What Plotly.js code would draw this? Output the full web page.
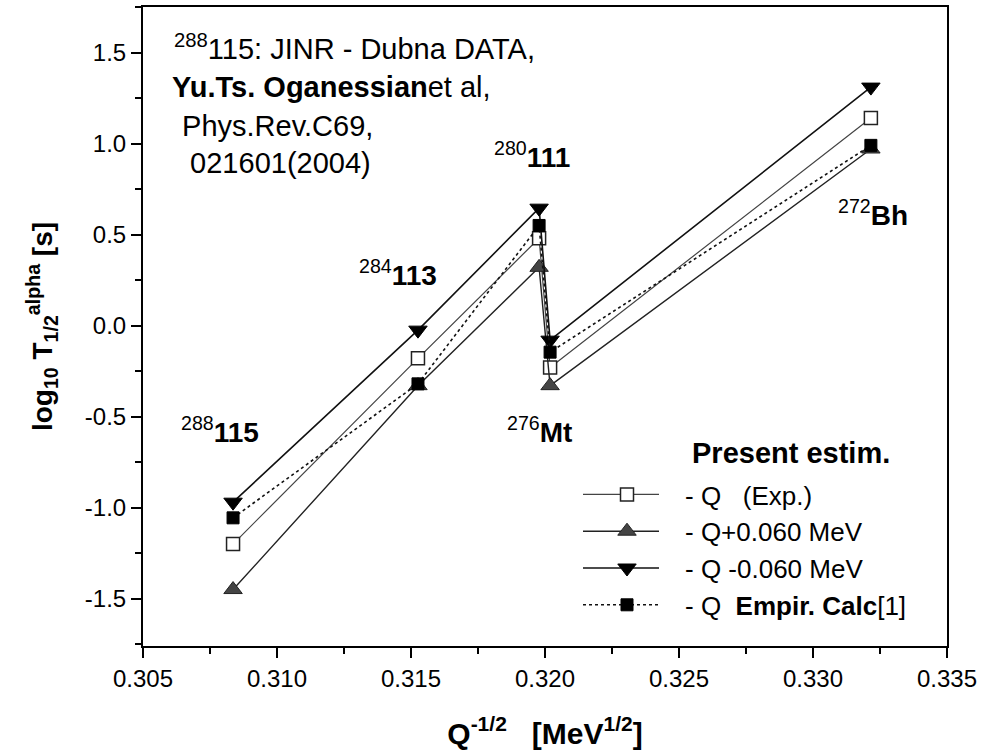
<!DOCTYPE html>
<html>
<head>
<meta charset="utf-8">
<script src="https://cdn.plot.ly/plotly-3.0.1.min.js"></script>
<style>html,body{margin:0;padding:0;background:#fff;}#chart{width:983px;height:752px;}</style>
</head>
<body>
<div id="chart"></div>
<script>
// Nuclei along the decay chain
const nuclei = ["288115", "284113", "280111", "276Mt", "272Bh"];
// Q^-1/2 [MeV^1/2]
const xQ = [0.30836, 0.31526, 0.31978, 0.32019, 0.33216];
// log10 T1/2 [s]
const yExp = [-1.20, -0.18, 0.48, -0.23, 1.14];
const yQplus = [-1.45, -0.33, 0.32, -0.33, 0.97];
const yQminus = [-0.97, -0.025, 0.645, -0.08, 1.31];
const yEmpir = [-1.056, -0.32, 0.55, -0.146, 0.99];

const seriesNames = ["- Q   (Exp.)", "- Q+0.060 MeV", "- Q -0.060 MeV", "- Q  <b>Empir. Calc</b>[1]"];

const xTickVals = [0.305, 0.310, 0.315, 0.320, 0.325, 0.330, 0.335];
const xTickLabels = ["0.305", "0.310", "0.315", "0.320", "0.325", "0.330", "0.335"];
const yTickVals = [-1.5, -1.0, -0.5, 0.0, 0.5, 1.0, 1.5];
const yTickLabels = ["-1.5", "-1.0", "-0.5", "0.0", "0.5", "1.0", "1.5"];

const FONT = "Liberation Sans, Arial, sans-serif";

const traces = [
  {x: xQ, y: yExp, name: seriesNames[0], mode: "lines+markers",
   line: {color: "#444", width: 1.2},
   marker: {symbol: "square", size: 13, color: "#fff", line: {color: "#222", width: 1.5}}},
  {x: xQ, y: yQplus, name: seriesNames[1], mode: "lines+markers",
   line: {color: "#222", width: 1.4},
   marker: {symbol: "triangle-up", size: 16, color: "#444", line: {color: "#222", width: 1}}},
  {x: xQ, y: yQminus, name: seriesNames[2], mode: "lines+markers",
   line: {color: "#111", width: 1.6},
   marker: {symbol: "triangle-down", size: 16, color: "#000", line: {color: "#000", width: 1}}},
  {x: xQ, y: yEmpir, name: seriesNames[3], mode: "lines+markers",
   line: {color: "#111", width: 1.6, dash: "dot"},
   marker: {symbol: "square", size: 12, color: "#000", line: {color: "#000", width: 1}}}
];

const PL = 143, PR = 947, PT = 7, PB = 646;
const toPX = (px) => (px - PL) / (PR - PL);
const toPY = (py) => (PB - py) / (PB - PT);

const lbl = (txt, x, y, size) => ({text: txt, x: toPX(x), y: toPY(y), xref: "paper", yref: "paper",
  showarrow: false, xanchor: "left", yanchor: "middle",
  font: {family: FONT, size: size, color: "#000"}});

const annotations = [
  lbl("<sup>288</sup>115: JINR - Dubna DATA,", 172, 47, 29),
  lbl("<b>Yu.Ts. Oganessian</b>et al,", 170, 87, 29),
  lbl(" Phys.Rev.C69,", 172, 126, 29),
  lbl("  021601(2004)", 172, 163, 29),
  lbl("<sup>280</sup><b>111</b>", 492, 155, 28),
  lbl("<sup>284</sup><b>113</b>", 357, 273, 28),
  lbl("<sup>288</sup><b>115</b>", 179, 430, 28),
  lbl("<sup>276</sup><b>Mt</b>", 505, 430, 28),
  lbl("<sup>272</sup><b>Bh</b>", 836, 213, 28),
  lbl("<b>Present estim.</b>", 690, 453, 29)
];

const layout = {
  width: 983, height: 752,
  margin: {l: PL, r: 983 - PR, t: PT, b: 752 - PB},
  paper_bgcolor: "#fff", plot_bgcolor: "#fff",
  font: {family: FONT, color: "#000", size: 24},
  showlegend: true,
  legend: {x: toPX(569), y: toPY(471), xanchor: "left", yanchor: "top",
    bgcolor: "rgba(0,0,0,0)", borderwidth: 0, tracegroupgap: 0,
    font: {family: FONT, size: 26, color: "#000"}, itemwidth: 106},
  xaxis: {range: [0.305, 0.335], tickvals: xTickVals, ticktext: xTickLabels,
    ticks: "outside", ticklen: 10, tickwidth: 2, tickcolor: "#000",
    minor: {dtick: 0.0025, ticks: "outside", ticklen: 6, tickwidth: 2, tickcolor: "#000"},
    showline: true, linecolor: "#000", linewidth: 2, mirror: true,
    showgrid: false, zeroline: false,
    tickfont: {family: FONT, size: 24},
    title: {text: "<b>Q<sup>-1/2</sup>   [MeV<sup>1/2</sup>]</b>", font: {family: FONT, size: 30}, standoff: 32}},
  yaxis: {range: [-1.76, 1.75], tickvals: yTickVals, ticktext: yTickLabels,
    ticks: "outside", ticklen: 10, tickwidth: 2, tickcolor: "#000",
    minor: {dtick: 0.25, ticks: "outside", ticklen: 6, tickwidth: 2, tickcolor: "#000"},
    showline: true, linecolor: "#000", linewidth: 2, mirror: true,
    showgrid: false, zeroline: false,
    tickfont: {family: FONT, size: 24},
    title: {text: "<b>log<sub>10</sub> T<sub>1/2</sub><sup>alpha</sup> [s]</b>", font: {family: FONT, size: 28}, standoff: 24}},
  annotations: annotations
};

const gd = document.getElementById("chart");
function fixLegendLines() {
  gd.querySelectorAll(".legend .legendlines path").forEach(p => {
    p.setAttribute("d", "M14,0h76");
  });
}
Plotly.newPlot(gd, traces, layout, {displayModeBar: false, staticPlot: true}).then(() => {
  fixLegendLines();
  gd.on && gd.on("plotly_afterplot", fixLegendLines);
  setTimeout(fixLegendLines, 50);
});
</script>
</body>
</html>
